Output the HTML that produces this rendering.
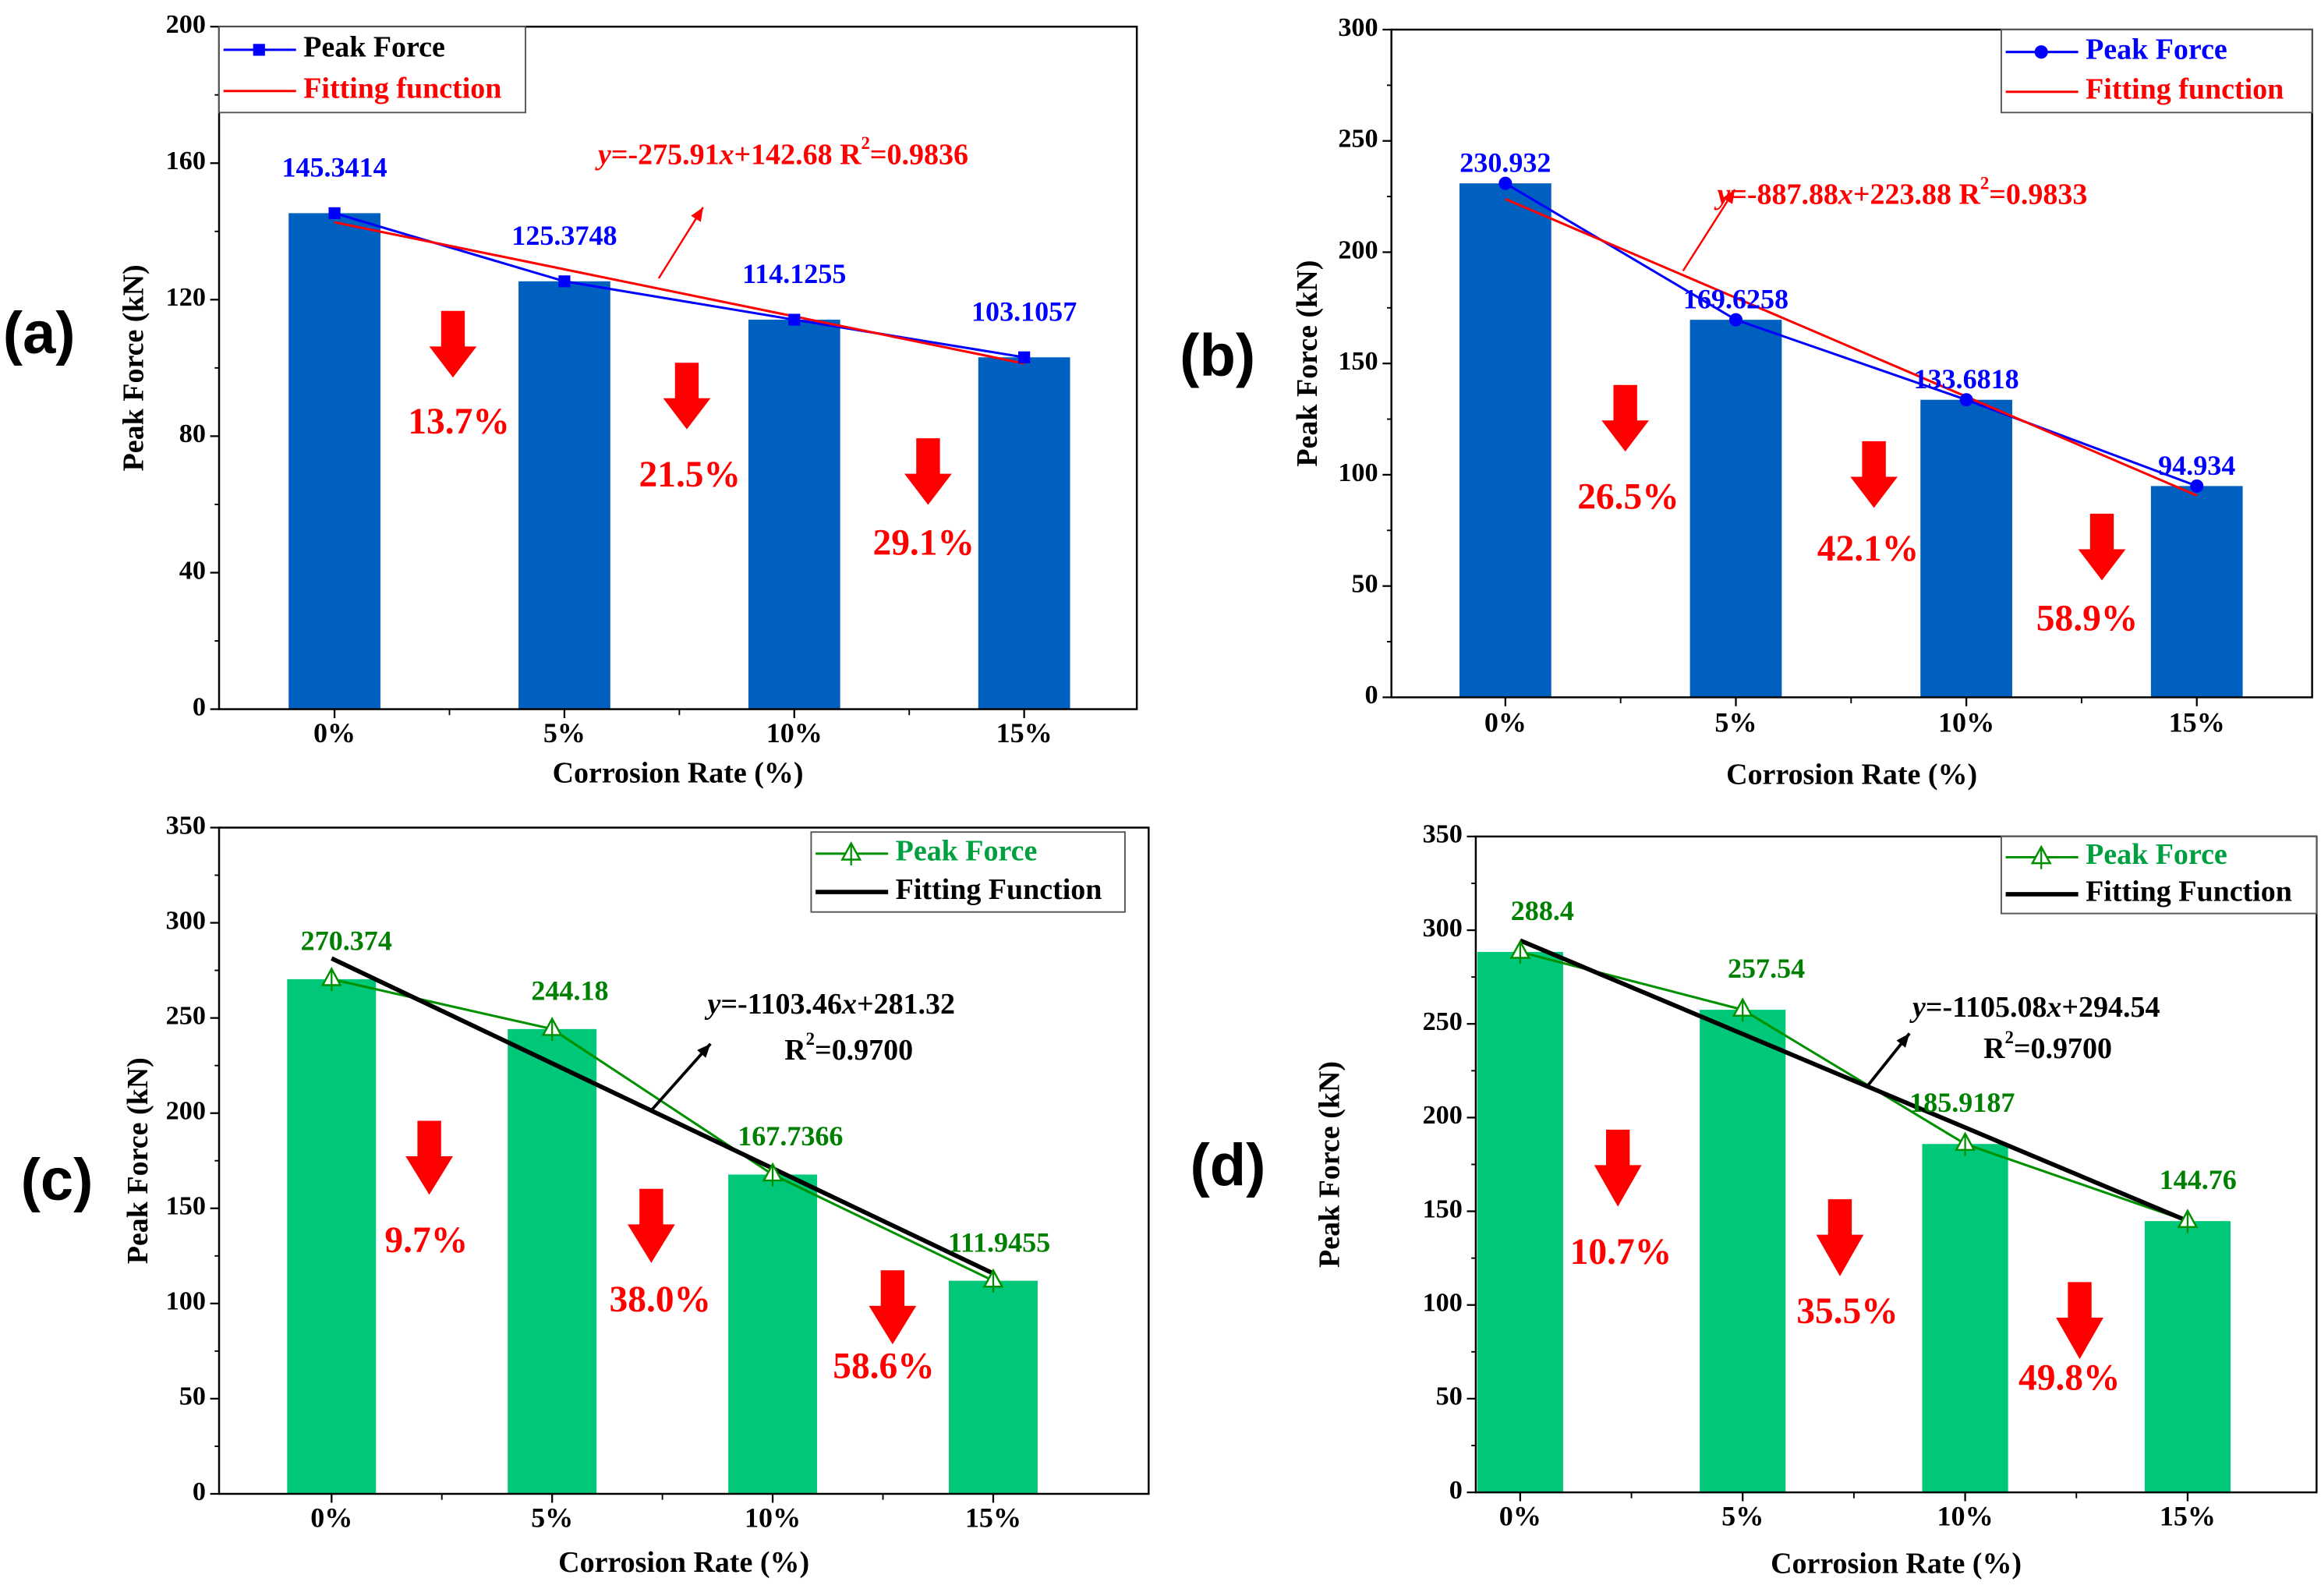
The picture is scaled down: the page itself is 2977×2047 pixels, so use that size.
<!DOCTYPE html>
<html><head><meta charset="utf-8">
<style>
html,body{margin:0;padding:0;background:#fff;}
svg{display:block;}
text{font-family:"Liberation Serif",serif;font-weight:bold;}
</style></head>
<body>
<svg id="fig" width="2977" height="2047" viewBox="0 0 1568 1078" preserveAspectRatio="none" xmlns="http://www.w3.org/2000/svg"></svg>
<script>
const categories = ["0%", "5%", "10%", "15%"];
const rates = [0, 0.05, 0.10, 0.15];
const valuesA = [145.3414, 125.3748, 114.1255, 103.1057];
const valuesB = [230.932, 169.6258, 133.6818, 94.934];
const valuesC = [270.374, 244.18, 167.7366, 111.9455];
const valuesD = [288.4, 257.54, 185.9187, 144.76];
const fitA = [-275.91, 142.68];
const fitB = [-887.88, 223.88];
const fitC = [-1103.46, 281.32];
const fitD = [-1105.08, 294.54];
const fitDrawnD = [294.5, 144.8];
const ticksA = [0, 40, 80, 120, 160, 200];
const ticksB = [0, 50, 100, 150, 200, 250, 300];
const ticksCD = [0, 50, 100, 150, 200, 250, 300, 350];
const dropsA = ["13.7%", "21.5%", "29.1%"];
const dropsB = ["26.5%", "42.1%", "58.9%"];
const dropsC = ["9.7%", "38.0%", "58.6%"];
const dropsD = ["10.7%", "35.5%", "49.8%"];

const NS = "http://www.w3.org/2000/svg";
const svg = document.getElementById("fig");
function mk(tag, attrs, parent, txt){
  const e = document.createElementNS(NS, tag);
  for (const k in attrs) e.setAttribute(k, attrs[k]);
  if (txt !== undefined) e.textContent = txt;
  (parent || svg).appendChild(e);
  return e;
}

function panel(p){
  const g = mk("g", {});
  
  
  const ymax = p.ticks[p.ticks.length-1];
  const ys = v => p.bottom - v / ymax * (p.bottom - p.top);
  const xs = i => p.cx0 + i * p.dx;
  p.values.forEach((v, i) => {
    const r = mk("rect", {x: xs(i) - p.bw/2, y: ys(v), width: p.bw, height: p.bottom - ys(v), fill: p.barColor}, g);
    
    
  });
  const box = mk("rect", {x: p.left, y: p.top, width: p.right - p.left, height: p.bottom - p.top, fill: "none", stroke: "#000", "stroke-width": 1.3}, g);
  
  
  const step = p.ticks[1] - p.ticks[0];
  p.ticks.forEach((t, i) => {
    mk("line", {x1: p.left - 6, x2: p.left, y1: ys(t), y2: ys(t), stroke: "#000", "stroke-width": 1.2}, g);
    if (i < p.ticks.length - 1) {
      mk("line", {x1: p.left - 3, x2: p.left, y1: ys(t + step/2), y2: ys(t + step/2), stroke: "#000", "stroke-width": 1}, g);
    }
    const tl = mk("text", {x: p.left - 9, y: ys(t), "text-anchor": "end", "dominant-baseline": "middle", "font-size": 18}, g, String(t));
    
    
  });
  categories.forEach((c, i) => {
    mk("line", {x1: xs(i), x2: xs(i), y1: p.bottom, y2: p.bottom + 6, stroke: "#000", "stroke-width": 1.2}, g);
    if (i < categories.length - 1) mk("line", {x1: xs(i) + p.dx/2, x2: xs(i) + p.dx/2, y1: p.bottom, y2: p.bottom + 4, stroke: "#000", "stroke-width": 1}, g);
    const xl = mk("text", {x: xs(i), y: p.xtickY, "text-anchor": "middle", "dominant-baseline": "middle", "font-size": 19}, g, c);
    
    
  });
  const xt = mk("text", {x: (p.left + p.right)/2, y: p.xtitleY, "text-anchor": "middle", "dominant-baseline": "middle", "font-size": 20}, g, "Corrosion Rate (%)");
  
  
  const yt = mk("text", {x: 0, y: 0, transform: `translate(${p.ytitleX},${(p.top + p.bottom)/2}) rotate(-90)`, "text-anchor": "middle", "dominant-baseline": "middle", "font-size": 20}, g, "Peak Force (kN)");
  
  
  const pl = mk("text", {x: p.letterX, y: p.letterY, "dominant-baseline": "middle", "font-size": 40, style: "font-family:'Liberation Sans',sans-serif"}, g, "(" + p.id + ")");
  
  
  const pts = p.values.map((v, i) => xs(i) + "," + ys(v)).join(" ");
  const pf = mk("polyline", {points: pts, fill: "none", stroke: p.lineColor, "stroke-width": 1.6}, g);
  
  
  const f0 = p.fitDrawn ? p.fitDrawn[0] : p.fit[1] + p.fit[0] * rates[0];
  const f3 = p.fitDrawn ? p.fitDrawn[1] : p.fit[1] + p.fit[0] * rates[3];
  const fl = mk("line", {x1: xs(0), y1: ys(f0), x2: xs(3), y2: ys(f3), stroke: p.fitColor, "stroke-width": p.fitW}, g);
  
  
  p.values.forEach((v, i) => {
    const x = xs(i), y = ys(v);
    let m;
    if (p.marker === "square") m = mk("rect", {x: x-4, y: y-4, width: 8, height: 8, fill: p.lineColor}, g);
    else if (p.marker === "circle") m = mk("circle", {cx: x, cy: y, r: 4.5, fill: p.lineColor}, g);
    else {
      m = mk("g", {}, g);
      mk("polygon", {points: `${x},${y-7} ${x-6},${y+4} ${x+6},${y+4}`, fill: "#fff", stroke: p.lineColor, "stroke-width": 1.3}, m);
      mk("line", {x1: x, x2: x, y1: y-7, y2: y+8, stroke: p.lineColor, "stroke-width": 1.2}, m);
    }
    
    
    const lb = mk("text", {x: x + p.lblDx[i], y: y + p.lblDy, "text-anchor": "middle", "dominant-baseline": "middle", "font-size": 19, fill: p.labelColor}, g, String(v));
    
    
  });
  p.drops.forEach((d, i) => {
    const a = p.arrows[i];
    const ar = mk("polygon", {points: `${a[0]-8},${a[1]} ${a[0]+8},${a[1]} ${a[0]+8},${a[1]+24} ${a[0]+16},${a[1]+24} ${a[0]},${a[1]+p.ah} ${a[0]-16},${a[1]+24} ${a[0]-8},${a[1]+24}`, fill: "#ff0000"}, g);
    
    
    const dt = mk("text", {x: a[2], y: a[3], "text-anchor": "middle", "dominant-baseline": "middle", "font-size": 25, fill: "#ff0000"}, g, d);
    
    
  });
  const eq = mk("g", {}, g);
  
  
  p.eq(eq);
  mk("line", {x1: p.eqArrow[0], y1: p.eqArrow[1], x2: p.eqArrow[2], y2: p.eqArrow[3], stroke: p.fitColor, "stroke-width": p.fitW === 3 ? 2 : 1.3}, g);
  const ang = Math.atan2(p.eqArrow[3]-p.eqArrow[1], p.eqArrow[2]-p.eqArrow[0]);
  const hx = p.eqArrow[2], hy = p.eqArrow[3];
  mk("polygon", {points: `${hx},${hy} ${hx-10*Math.cos(ang-0.4)},${hy-10*Math.sin(ang-0.4)} ${hx-10*Math.cos(ang+0.4)},${hy-10*Math.sin(ang+0.4)}`, fill: p.fitColor}, g);
  const L = p.legend;
  const lg = mk("g", {}, g);
  
  
  mk("rect", {x: L[0], y: L[1], width: L[2]-L[0], height: L[3]-L[1], fill: "#fff", stroke: "#555", "stroke-width": 1}, lg);
  const r1 = L[1] + (L[3]-L[1])*0.27, r2 = L[1] + (L[3]-L[1])*0.75;
  mk("line", {x1: L[0]+3, x2: L[0]+52, y1: r1, y2: r1, stroke: p.lineColor, "stroke-width": 1.6}, lg);
  const mx = L[0]+27;
  if (p.marker === "square") mk("rect", {x: mx-4, y: r1-4, width: 8, height: 8, fill: p.lineColor}, lg);
  else if (p.marker === "circle") mk("circle", {cx: mx, cy: r1, r: 4.5, fill: p.lineColor}, lg);
  else { mk("polygon", {points: `${mx},${r1-7} ${mx-6},${r1+4} ${mx+6},${r1+4}`, fill: "#fff", stroke: p.lineColor, "stroke-width": 1.3}, lg); mk("line", {x1: mx, x2: mx, y1: r1-7, y2: r1+8, stroke: p.lineColor, "stroke-width": 1.2}, lg); }
  mk("line", {x1: L[0]+3, x2: L[0]+52, y1: r2, y2: r2, stroke: p.fitColor, "stroke-width": p.fitW}, lg);
  const e1 = mk("text", {x: L[0]+57, y: r1, "dominant-baseline": "middle", "font-size": 20, fill: p.legendColor}, lg, "Peak Force");
  
  
  const e2 = mk("text", {x: L[0]+57, y: r2, "dominant-baseline": "middle", "font-size": 20, fill: p.fitColor}, lg, p.fitName);
  
  
}

function eqLine(g, x, y, a, b, r2, color, oneLine, r2x, r2y){
  const t = mk("text", {x: x, y: y, "dominant-baseline": "middle", "font-size": 20, fill: color}, g);
  mk("tspan", {"font-style": "italic"}, t, "y");
  mk("tspan", {}, t, "=" + a + "");
  mk("tspan", {"font-style": "italic"}, t, "x");
  mk("tspan", {}, t, "+" + b);
  const t2 = oneLine ? t : mk("text", {x: r2x, y: r2y, "dominant-baseline": "middle", "font-size": 20, fill: color}, g);
  mk("tspan", {}, t2, oneLine ? "  R" : "R");
  mk("tspan", {"font-size": 12, dy: -8}, t2, "2");
  mk("tspan", {dy: 8}, t2, "=0." + r2);
}

panel({id: "a", values: valuesA, fit: fitA, ticks: ticksA, drops: dropsA,
  left: 148, right: 768, top: 18, bottom: 479, cx0: 226, dx: 155.3, bw: 62,
  barColor: "#0060c0", lineColor: "#0000ff", labelColor: "#0000ff", legendColor: "#000", fitColor: "#ff0000", fitW: 1.6,
  marker: "square", lblDx: [0,0,0,0], lblDy: -29, xtickY: 497, xtitleY: 524, ytitleX: 92, letterX: 2, letterY: 228,
  arrows: [[306,210,310,287],[464,245,466,323],[627,296,624,369]], ah: 45,
  legend: [148, 18, 355, 76], fitName: "Fitting function",
  eq: g => eqLine(g, 404, 106, "-275.91", "142.68", "9836", "#ff0000", true),
  eqArrow: [445, 188, 475, 140]});
panel({id: "b", values: valuesB, fit: fitB, ticks: ticksB, drops: dropsB,
  left: 940, right: 1562, top: 20, bottom: 471, cx0: 1017, dx: 155.7, bw: 62,
  barColor: "#0060c0", lineColor: "#0000ff", labelColor: "#0000ff", legendColor: "#0000ff", fitColor: "#ff0000", fitW: 1.6,
  marker: "circle", lblDx: [0,0,0,0], lblDy: -12, xtickY: 490, xtitleY: 525, ytitleX: 885, letterX: 797, letterY: 243,
  arrows: [[1098,260,1100,338],[1266,298,1262,373],[1420,347,1410,420]], ah: 45,
  legend: [1352, 20, 1562, 76], fitName: "Fitting function",
  eq: g => eqLine(g, 1160, 133, "-887.88", "223.88", "9833", "#ff0000", true),
  eqArrow: [1137, 183, 1172, 128]});
panel({id: "c", values: valuesC, fit: fitC, ticks: ticksCD, drops: dropsC,
  left: 148, right: 776, top: 559, bottom: 1009, cx0: 224, dx: 149, bw: 60,
  barColor: "#00c878", lineColor: "#009000", labelColor: "#008000", legendColor: "#00a040", fitColor: "#000", fitW: 3,
  marker: "triangle", lblDx: [10,12,12,4], lblDy: -24, xtickY: 1027, xtitleY: 1057, ytitleX: 95, letterX: 14, letterY: 800,
  arrows: [[290,757,288,840],[440,803,446,880],[603,858,597,925]], ah: 50,
  legend: [548, 562, 760, 616], fitName: "Fitting Function",
  eq: g => eqLine(g, 478, 680, "-1103.46", "281.32", "9700", "#000", false, 530, 711),
  eqArrow: [440, 750, 480, 705]});
panel({id: "d", values: valuesD, fit: fitD, fitDrawn: fitDrawnD, ticks: ticksCD, drops: dropsD,
  left: 997, right: 1565, top: 565, bottom: 1008, cx0: 1027, dx: 150.3, bw: 58,
  barColor: "#00c878", lineColor: "#009000", labelColor: "#008000", legendColor: "#00a040", fitColor: "#000", fitW: 3,
  marker: "triangle", lblDx: [15,16,-2,7], lblDy: -26, xtickY: 1026, xtitleY: 1058, ytitleX: 900, letterX: 804, letterY: 790,
  arrows: [[1093,763,1095,848],[1243,810,1248,888],[1405,866,1398,933]], ah: 52,
  legend: [1352, 565, 1565, 617], fitName: "Fitting Function",
  eq: g => eqLine(g, 1292, 682, "-1105.08", "294.54", "9700", "#000", false, 1340, 710),
  eqArrow: [1262, 733, 1290, 698]});
</script>
</body></html>
